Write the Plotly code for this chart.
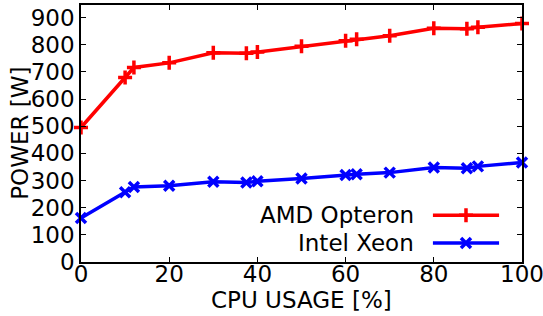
import plotly.graph_objects as go

cpu_usage = [0, 10, 12, 20, 30, 37.5, 40, 50, 60, 62.5, 70, 80, 87.5, 90, 100]
amd_power = [495, 679, 716, 733, 770, 768, 773, 794, 814, 820, 833, 860, 859, 864, 878]
xeon_power = [162, 257, 276, 281, 295, 293, 297, 307, 320, 323, 329, 348, 345, 352, 366]
series_names = ["AMD Opteron", "Intel Xeon"]
x_ticks = [0, 20, 40, 60, 80, 100]
y_ticks = [0, 100, 200, 300, 400, 500, 600, 700, 800, 900]

FONT = "DejaVu Sans"
red = "#ff0000"
blue = "#0000ff"

fig = go.Figure()
fig.add_trace(go.Scatter(
    x=cpu_usage, y=amd_power, mode="lines+markers", name=series_names[0],
    line=dict(color=red, width=3.5),
    marker=dict(symbol="cross-thin", size=10, line=dict(color=red, width=3.5), color=red),
    cliponaxis=False, showlegend=False))
fig.add_trace(go.Scatter(
    x=cpu_usage, y=xeon_power, mode="lines+markers", name=series_names[1],
    line=dict(color=blue, width=3.5),
    marker=dict(symbol="x-thin", size=10, line=dict(color=blue, width=3.5), color=blue),
    cliponaxis=False, showlegend=False))

# custom legend (text left of sample line), drawn on an overlay axis in [0,1]
legend_y = [0.182, 0.074]
for name, col, sym, ly in [(series_names[0], red, "cross-thin", legend_y[0]),
                           (series_names[1], blue, "x-thin", legend_y[1])]:
    fig.add_trace(go.Scatter(
        x=[0.798, 0.948], y=[ly, ly], xaxis="x2", yaxis="y2", mode="lines",
        line=dict(color=col, width=3.5), showlegend=False, hoverinfo="skip"))
    fig.add_trace(go.Scatter(
        x=[0.873], y=[ly], xaxis="x2", yaxis="y2", mode="markers",
        marker=dict(symbol=sym, size=10, line=dict(color=col, width=3.5), color=col),
        showlegend=False, hoverinfo="skip"))
    fig.add_annotation(x=0.760, y=ly, xref="paper", yref="paper", text=name,
                       showarrow=False, xanchor="right", yanchor="middle",
                       font=dict(family=FONT, size=23, color="black"))

# axis titles as annotations for precise placement
fig.add_annotation(x=0.5, y=-0.148, xref="paper", yref="paper", text="CPU USAGE [%]",
                   showarrow=False, xanchor="center", yanchor="middle",
                   font=dict(family=FONT, size=23, color="black"))
fig.add_annotation(x=-0.14, y=0.5, xref="paper", yref="paper", text="POWER [W]",
                   showarrow=False, xanchor="center", yanchor="middle", textangle=-90,
                   font=dict(family=FONT, size=23, color="black"))

axis_common = dict(
    showgrid=False, zeroline=False, showline=True, linecolor="black", linewidth=1.5,
    mirror="ticks", ticks="inside", ticklen=5, tickwidth=1, tickcolor="black",
    tickfont=dict(family=FONT, size=23, color="black"), automargin=False,
)

fig.update_layout(
    width=543, height=316,
    margin=dict(l=81, r=21, t=5, b=54),
    paper_bgcolor="white", plot_bgcolor="white",
    font=dict(family=FONT, color="black"),
    xaxis=dict(range=[0, 100], tickvals=x_ticks, ticklabeloverflow="allow",
               ticklabelstandoff=-9, **axis_common),
    yaxis=dict(range=[0, 946], tickvals=y_ticks, **axis_common),
    xaxis2=dict(overlaying="x", range=[0, 1], visible=False),
    yaxis2=dict(overlaying="y", range=[0, 1], visible=False),
)

fig.write_html("out.html", config={"displayModeBar": False},
               post_script="document.body.style.margin='0';")
